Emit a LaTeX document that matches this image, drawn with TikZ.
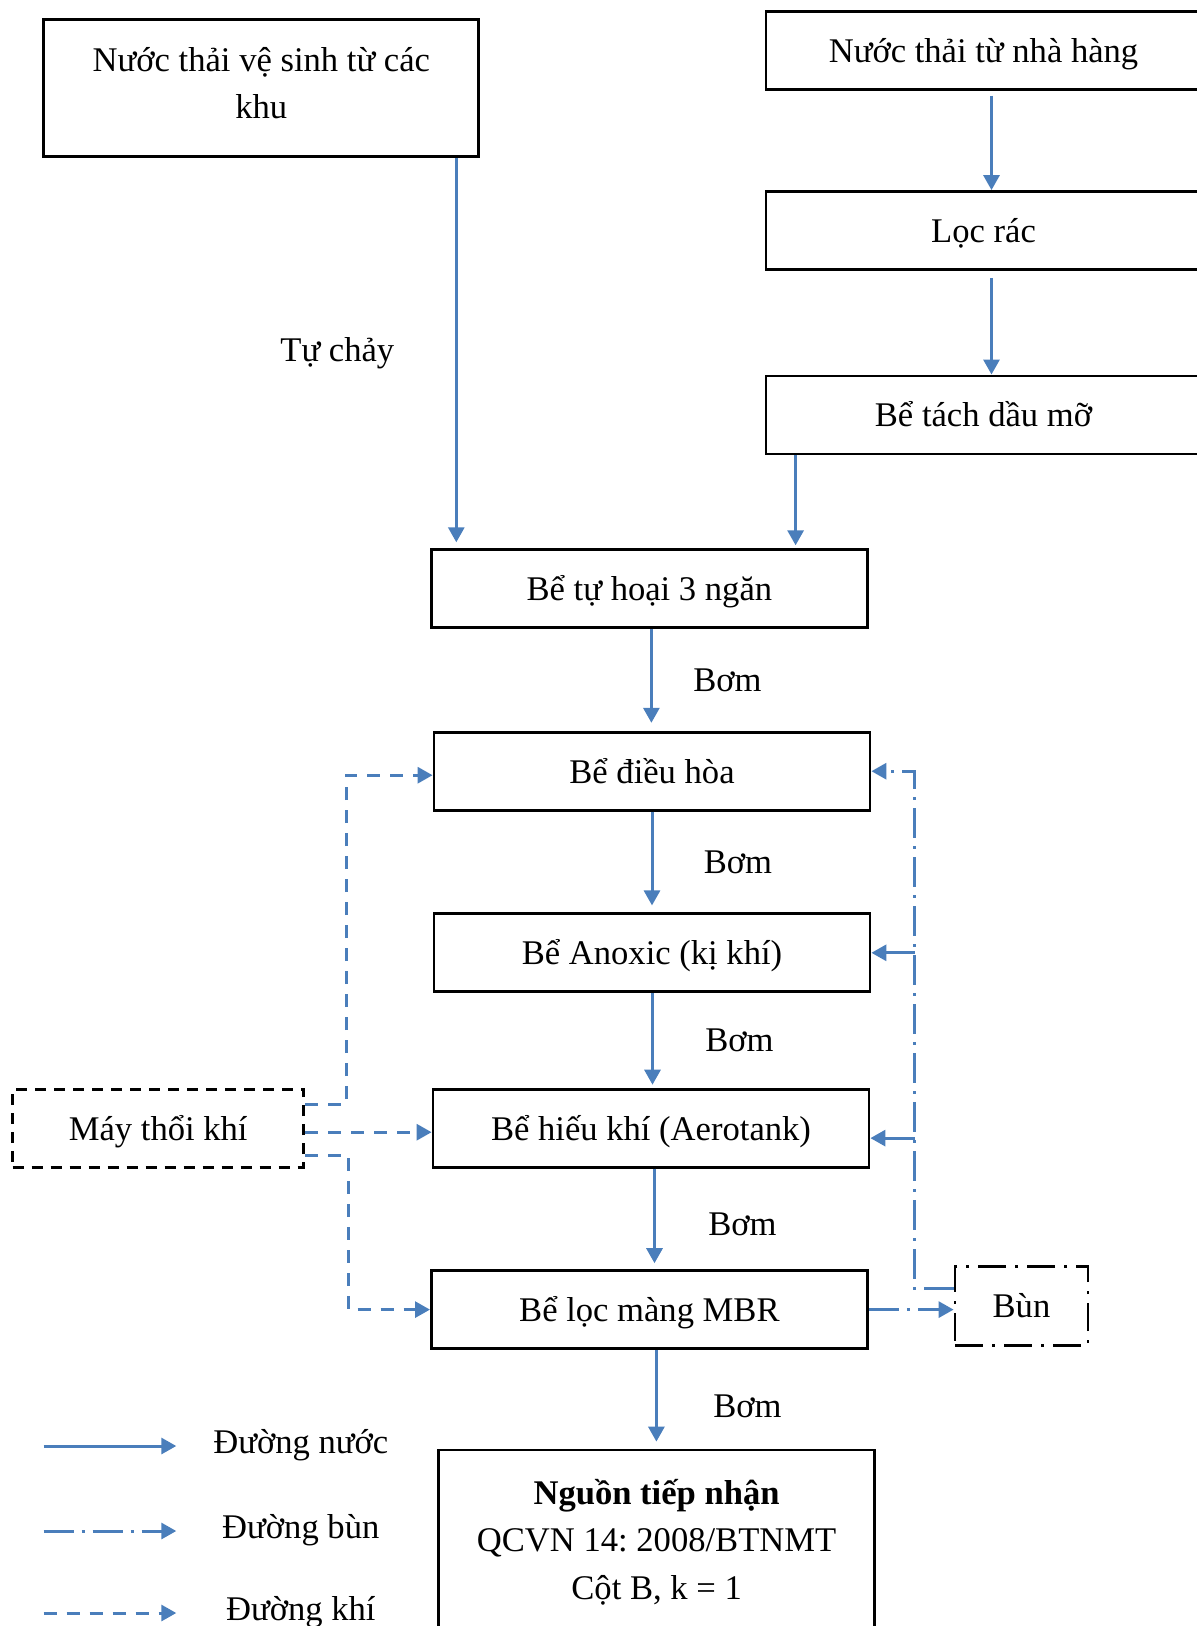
\documentclass[tikz,border=0pt]{standalone}
\usepackage{fontspec}
\setmainfont{Liberation Serif}
\usetikzlibrary{arrows.meta}
\definecolor{flowblue}{RGB}{74,126,187}
\frenchspacing

\def\bw{436}
\def\bh{78}

\tikzset{
  tank/.style={draw=black, line width=2.8pt, minimum width=\bw pt, minimum height=\bh pt, inner sep=0pt, align=center},
  tankline/.style={tank, text height=32pt, text depth=8pt},
  water/.style={draw=flowblue, line width=3pt, -{Triangle[width=16pt,length=15pt]}},
  air/.style={water, dash pattern=on 13pt off 10pt},
  sludge/.style={water, dash pattern=on 30pt off 8pt on 3pt off 8pt},
}

\begin{document}
\begin{tikzpicture}[x=1pt,y=-1pt,font=\fontsize{34.6}{47.7}\selectfont]
        \useasboundingbox (0,0) rectangle (1197,1626);
        \clip (0,0) rectangle (1197,1626);

        % nguon nuoc thai
        \node[tank, minimum width=435pt, minimum height=137pt, text depth=10pt] (vesinh) at (261.3,88.1) {Nước thải vệ sinh từ các\\khu};
        \node[tankline, minimum width=435pt] (nhahang) at (983.5,50.3) {Nước thải từ nhà hàng};
        \node[tankline, minimum width=435pt] (locrac) at (983.5,230.5) {Lọc rác};
        \node[tankline, minimum width=435pt] (tachdau) at (983.5,414.9) {Bể tách dầu mỡ};

        % cac be xu ly
        \node[tankline] (tuhoai) at (649.4,588.7) {Bể tự hoại 3 ngăn};
        \node[tankline] (dieuhoa) at (652,771.2) {Bể điều hòa};
        \node[tankline] (anoxic) at (652,952.8) {Bể Anoxic (kị khí)};
        \node[tankline] (hieukhi) at (651,1128.1) {Bể hiếu khí (Aerotank)};
        \node[tankline] (mbr) at (649.4,1309.6) {Bể lọc màng MBR};
        \node[tank, minimum height=184pt] (nguon) at (656.6,1542) {\textbf{Nguồn tiếp nhận}\\QCVN 14: 2008/BTNMT\\Cột B, k = 1};

        \node[tankline, minimum width=291pt, dash pattern=on 11pt off 8pt] (maythoi) at (158.2,1128.2) {Máy thổi khí};
        \node[tankline, minimum width=133pt, minimum height=79pt, dash pattern=on 28pt off 9pt on 3pt off 9pt] (bun) at (1021.5,1305.6) {Bùn};

        % duong nuoc
        \coordinate (vsout) at ([xshift=195pt]vesinh.south);
        \draw[water, shorten >=6pt] (vsout) -- (vsout |- tuhoai.north) node[midway,xshift=-119pt] (tuchay) {Tự chảy};
        \draw[water, shorten <=5pt] ([xshift=8pt]nhahang.south) -- ([xshift=8pt]locrac.north);
        \draw[water, shorten <=7pt] ([xshift=8pt]locrac.south) -- ([xshift=8pt]tachdau.north);
        \coordinate (tdout) at ([xshift=31pt]tachdau.south west);
        \draw[water, shorten >=3pt] (tdout) -- (tdout |- tuhoai.north);
        \draw[water, shorten >=8pt] ([xshift=2pt]tuhoai.south) coordinate (p1) -- (p1 |- dieuhoa.north) node[midway,xshift=76pt] (bom1) {Bơm};
        \draw[water, shorten >=7pt] (dieuhoa.south) coordinate (p2) -- (p2 |- anoxic.north) node[midway,xshift=86pt] (bom2) {Bơm};
        \draw[water, shorten >=3pt] ([xshift=.5pt]anoxic.south) coordinate (p3) -- (p3 |- hieukhi.north) node[midway,xshift=87pt] (bom3) {Bơm};
        \draw[water, shorten >=6pt] ([xshift=3.5pt]hieukhi.south) coordinate (p4) -- (p4 |- mbr.north) node[midway,xshift=88pt,yshift=-5pt] (bom4) {Bơm};
        \draw[water, shorten >=7pt] ([xshift=7pt]mbr.south) coordinate (p5) -- (p5 |- nguon.north) node[midway,xshift=91pt,yshift=-7pt] (bom5) {Bơm};

        % duong khi
        \draw[air] ([yshift=24pt]maythoi.east) -- ++(41,0) |- ([yshift=-4pt]dieuhoa.west);
        \draw[air] ([yshift=-4pt]maythoi.east) -- ([yshift=-4pt]maythoi.east -| hieukhi.west);
        \draw[air] ([yshift=-27pt]maythoi.east) -- ++(43,0) |- (mbr.west);

        % duong bun
        \draw[sludge] (mbr.east) -- (mbr.east -| bun.west);
        \coordinate (bunout) at ([yshift=17pt]bun.west);
        \draw[sludge] (bunout) -- ++(-39,0) coordinate (tuanhoan) |- (dieuhoa.east);
        \draw[sludge] (tuanhoan |- anoxic.east) -- (anoxic.east);
        \coordinate (hkin) at ([yshift=-10pt]hieukhi.east);
        \draw[sludge] (tuanhoan |- hkin) -- (hkin);

        % chu thich
        \foreach \k/\st/\txt/\yy in {1/water/Đường nước/1446, 2/sludge/Đường bùn/1531, 3/air/Đường khí/1613} {
            \coordinate (leg\k) at (43.6,\yy);
            \draw[\st] (leg\k) -- ++(132.7,0);
            \node (legtxt\k) at (300.8,\yy-1) {\txt};
        }
    \end{tikzpicture}
\end{document}
